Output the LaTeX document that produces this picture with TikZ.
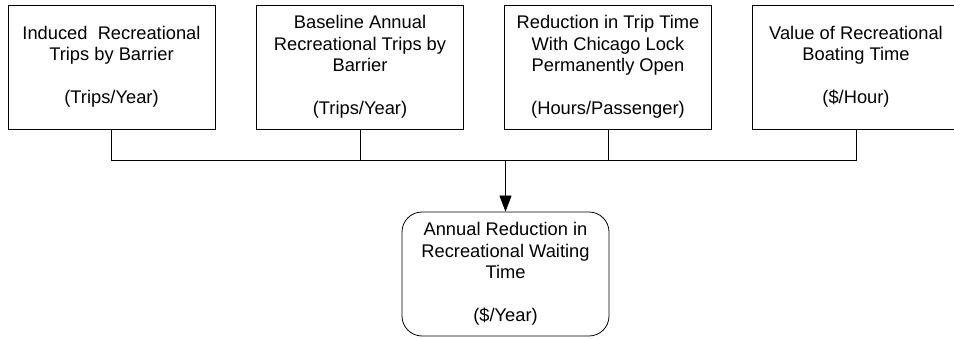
\documentclass[tikz,border=0pt]{standalone}
\usepackage{fontspec}
\setmainfont{Liberation Sans}
\usetikzlibrary{arrows.meta}
\begin{document}
\begin{tikzpicture}[x=1pt,y=-1pt,
  box/.style={draw, line width=0.8pt, minimum width=207pt, minimum height=124pt,
    inner sep=0pt, align=center, font=\fontsize{18.3}{21.5}\selectfont},
  rbox/.style={box, rounded corners=20pt},
  conn/.style={line width=0.8pt},
  arr/.style={conn, -{Triangle[length=16pt,width=12pt]}}]
\useasboundingbox (0,0) rectangle (954,339);
\node[box] (b1) at (111.5,67) {Induced\ \ Recreational\\Trips by Barrier\\[21.5pt](Trips/Year)};
\node[box] (b2) at (360,67) {Baseline Annual\\Recreational Trips by\\Barrier\\[21.5pt](Trips/Year)};
\node[box] (b3) at (608,67) {Reduction in Trip Time\\With Chicago Lock\\Permanently Open\\[21.5pt](Hours/Passenger)};
\node[box] (b4) at (856,67) {Value of Recreational\\Boating Time\\[21.5pt](\$/Hour)};
\node[rbox] (r) at (505.5,274) {Annual Reduction in\\Recreational Waiting\\Time\\[21.5pt](\$/Year)};
\coordinate (j) at (505.5,160);
\draw[conn] (b1.south) -- (b1.south |- j) -- (b4.south |- j) -- (b4.south);
\draw[conn] (b2.south) -- (b2.south |- j);
\draw[conn] (b3.south) -- (b3.south |- j);
\draw[arr] (r.north |- j) -- (r.north);
\end{tikzpicture}
\end{document}
